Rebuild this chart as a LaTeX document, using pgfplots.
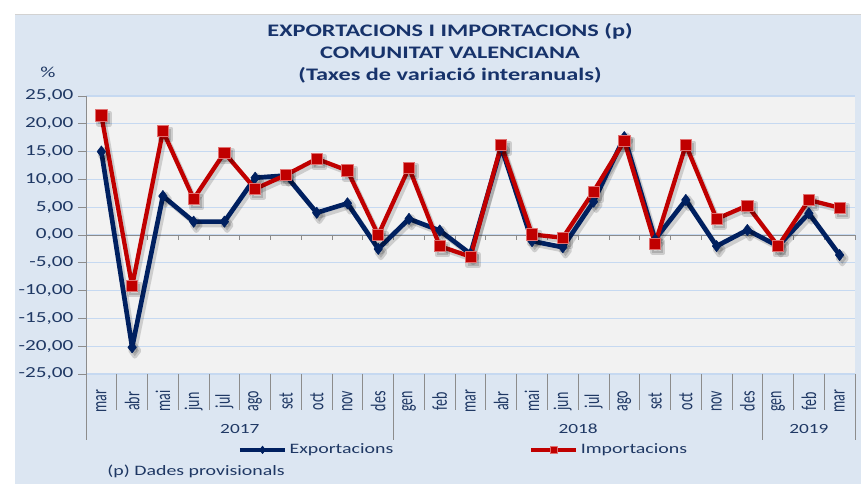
\documentclass[border=0pt]{standalone}
\usepackage{fontspec}
\setmainfont{Carlito}[FakeStretch=1.38]
\newfontfamily\monthfont{Carlito}
\usepackage{pgfplots}
\usepackage{pgfplotstable}
\pgfplotsset{compat=1.18}
\definecolor{panelbg}{HTML}{DCE6F2}
\definecolor{plotbg}{HTML}{F2F2F2}
\definecolor{gridblue}{HTML}{C6D9F1}
\definecolor{navy}{HTML}{002060}
\definecolor{impred}{HTML}{C00000}
\definecolor{impedge}{HTML}{E07070}
\definecolor{txtnavy}{HTML}{1F3864}
\definecolor{titlenavy}{HTML}{17336B}
\definecolor{axgray}{HTML}{8C8C8C}

\pgfplotstableread{
x exp imp
0 15.0 21.5
1 -20.2 -9.2
2 7.0 18.7
3 2.4 6.5
4 2.4 14.8
5 10.3 8.3
6 10.7 10.8
7 4.0 13.7
8 5.7 11.6
9 -2.5 0.0
10 2.9 12.1
11 0.8 -2.0
12 -3.4 -3.9
13 15.8 16.2
14 -1.1 0.1
15 -2.2 -0.5
16 6.0 7.8
17 17.6 16.9
18 -0.8 -1.6
19 6.3 16.2
20 -2.0 2.9
21 0.9 5.3
22 -2.0 -2.0
23 3.9 6.3
24 -3.6 4.9
}\datatable

\begin{document}
\begin{tikzpicture}
\path[use as bounding box] (0,0) rectangle (645.75pt,363pt);
\fill[panelbg] (11.25pt,0) rectangle (645.75pt,352.5pt);
\draw[gray!35] (11.25pt,352.5pt) -- (645.75pt,352.5pt);
\node[font=\bfseries\fontsize{13.2}{16.5}\selectfont, text=titlenavy, align=center] at (337.5pt,323pt)
  {EXPORTACIONS I IMPORTACIONS (p)\\COMUNITAT VALENCIANA\\(Taxes de variació interanuals)};
\node[font=\fontsize{11.5}{13}\selectfont, text=txtnavy] at (36pt,309pt) {\%};
\node[font=\fontsize{10.8}{12}\selectfont, text=txtnavy, anchor=west] at (77pt,9.75pt) {(p) Dades provisionals};
\begin{axis}[
  at={(64.5pt,82.5pt)}, anchor=south west,
  width=576.75pt, height=208.5pt, scale only axis,
  xmin=-0.5, xmax=24.5, ymin=-25, ymax=25,
  clip=false,
  axis background/.style={fill=plotbg},
  axis x line*=bottom, axis y line*=left,
  x axis line style={draw=none},
  y axis line style={draw=axgray, line width=0.6pt},
  xtick={0,...,24},
  xticklabels={mar,abr,mai,jun,jul,ago,set,oct,nov,des,gen,feb,mar,abr,mai,jun,jul,ago,set,oct,nov,des,gen,feb,mar},
  xtick style={draw=none},
  xticklabel style={font=\monthfont\fontsize{10.5}{12}\selectfont, text=txtnavy, yshift=-14.5pt, rotate=90, yscale=1.5, anchor=center},
  ytick={-25,-20,...,25},
  ytick style={draw=axgray, line width=0.6pt},
  tick align=outside, major tick length=6pt,
  yticklabel style={font=\fontsize{11.5}{13}\selectfont, text=txtnavy,
    /pgf/number format/.cd, fixed, fixed zerofill, precision=2, use comma, assume math mode=true},
  ymajorgrids,
  grid style={gridblue, line width=0.9pt},
  legend style={at={(0.4915,-0.273)}, anchor=center, draw=none, fill=none,
    font=\fontsize{10.8}{12}\selectfont, text=txtnavy, legend columns=2,
    /tikz/every even column/.append style={column sep=100pt}},
  legend image code/.code={\draw[mark repeat=2,mark phase=2,#1, mark size=2.8pt, line width=2.6pt] plot coordinates {(0pt,0pt) (17pt,0pt) (34pt,0pt)};},
]
\draw[axgray, line width=0.6pt] (axis cs:-0.5,0) -- (axis cs:24.5,0);
\pgfplotsinvokeforeach{-0.5,0.5,...,24.5}{
  \draw[axgray, line width=0.6pt] (axis cs:#1,0) -- ++(0pt,-3.5pt);
  \draw[axgray, line width=0.6pt] (axis cs:#1,-25) -- ++(0pt,-27pt);
}
\pgfplotsinvokeforeach{-0.5,9.5,21.5,24.5}{
  \draw[axgray, line width=0.6pt] (axis cs:#1,-25) -- ++(0pt,-49.5pt);
}
\node[font=\fontsize{10.5}{12}\selectfont, text=txtnavy] at (axis cs:4.5,-25) [yshift=-41pt] {2017};
\node[font=\fontsize{10.5}{12}\selectfont, text=txtnavy] at (axis cs:15.5,-25) [yshift=-41pt] {2018};
\node[font=\fontsize{10.5}{12}\selectfont, text=txtnavy] at (axis cs:23,-25) [yshift=-41pt] {2019};
% shadows
\addplot[forget plot, draw=black, opacity=0.15, line width=3.5pt, line join=round, xshift=2pt, yshift=-2.5pt,
  mark=diamond*, mark size=4.2pt, mark options={fill=black}] table[x=x,y=exp]{\datatable};
\addplot[forget plot, draw=black, opacity=0.15, line width=3.2pt, line join=round, xshift=2pt, yshift=-2.5pt,
  mark=square*, mark size=4.2pt, mark options={fill=black}] table[x=x,y=imp]{\datatable};
\addplot[navy, line width=3.5pt, line join=round, mark=diamond*, mark size=4.2pt,
  mark options={fill=navy, draw=navy, line width=0.5pt}] table[x=x,y=exp]{\datatable};
\addplot[impred, line width=3.2pt, line join=round, mark=square*, mark size=4.2pt,
  mark options={fill=impred, draw=impedge, line width=0.6pt}] table[x=x,y=imp]{\datatable};
\legend{Exportacions, Importacions}
\end{axis}
\end{tikzpicture}
\end{document}
